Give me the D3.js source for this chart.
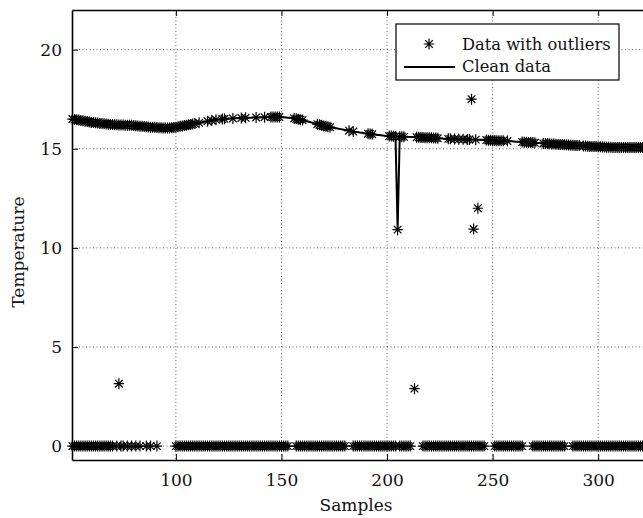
<!DOCTYPE html>
<html><head><meta charset="utf-8">
<script src="https://cdn.jsdelivr.net/npm/d3@7"></script>
<style>body{margin:0;background:#fff}svg{display:block}</style>
</head><body>
<script>
// ---- data ----
const firstSample = 51;
const cleanData = [
16.50,16.48,16.46,16.45,16.43,16.41,16.39,16.37,16.35,16.33,
16.32,16.31,16.30,16.28,16.27,16.26,16.25,16.24,16.23,16.22,
16.21,16.21,16.20,16.20,16.20,16.19,16.19,16.18,16.18,16.17,
16.16,16.15,16.14,16.13,16.12,16.11,16.10,16.09,16.09,16.08,
16.07,16.06,16.06,16.05,16.05,16.05,16.05,16.06,16.07,16.09,
16.11,16.13,16.15,16.17,16.19,16.21,16.23,16.25,16.27,16.29,
16.31,16.33,16.35,16.37,16.39,16.41,16.43,16.45,16.46,16.48,
16.49,16.50,16.51,16.52,16.52,16.53,16.53,16.54,16.54,16.55,
16.55,16.56,16.56,16.57,16.57,16.57,16.58,16.58,16.58,16.58,
16.59,16.59,16.59,16.60,16.60,16.60,16.60,16.60,16.60,16.60,
16.59,16.58,16.57,16.56,16.55,16.53,16.51,16.49,16.47,16.45,
16.42,16.39,16.36,16.33,16.30,16.27,16.24,16.21,16.18,16.15,
16.13,16.11,16.09,16.07,16.05,16.03,16.01,15.99,15.97,15.95,
15.93,15.91,15.89,15.87,15.85,15.84,15.82,15.81,15.79,15.78,
15.76,15.75,15.73,15.72,15.70,15.69,15.68,15.67,15.66,15.65,
15.64,15.64,15.63,15.62,10.92,15.61,15.61,15.60,15.60,15.60,
15.59,15.59,15.59,15.58,15.58,15.57,15.57,15.56,15.56,15.55,
15.55,15.54,15.54,15.53,15.52,15.52,15.51,15.51,15.50,15.50,
15.50,15.49,15.49,15.48,15.48,15.48,15.47,15.47,15.47,15.47,
15.46,15.46,15.46,15.45,15.45,15.44,15.44,15.43,15.43,15.42,
15.42,15.41,15.41,15.40,15.40,15.39,15.39,15.38,15.38,15.37,
15.36,15.36,15.35,15.34,15.33,15.33,15.32,15.31,15.31,15.30,
15.29,15.29,15.28,15.27,15.27,15.26,15.25,15.24,15.24,15.23,
15.22,15.22,15.21,15.20,15.20,15.19,15.18,15.18,15.17,15.17,
15.16,15.15,15.14,15.14,15.13,15.12,15.12,15.11,15.11,15.10,
15.10,15.09,15.09,15.08,15.08,15.08,15.07,15.07,15.07,15.07,
15.07,15.07,15.07,15.06,15.06,15.06,15.06,15.06,15.06,15.06,
15.06,15.06];

// samples of the noisy series whose reading equals the clean value
const onLineSamples = [
51,52,53,54,55,56,57,58,59,60,61,62,63,64,65,66,67,68,69,70,71,72,73,74,75,76,77,78,79,80,
81,82,83,84,85,86,87,88,89,90,91,92,93,94,95,96,97,98,99,100,101,102,103,104,105,106,107,108,109,
111,115,117,119,122,123,127,131,133,138,142,145,146,147,148,149,156,157,158,159,160,
167,168,169,170,171,172,173,182,184,191,192,193,201,202,203,204,205,206,207,208,
214,215,216,217,218,219,220,221,222,223,224,229,230,232,234,236,238,239,242,
247,248,249,250,251,252,253,254,255,257,264,265,266,267,268,269,270,
274,275,276,277,278,279,280,281,282,283,284,285,286,287,288,289,290,291,
293,294,295,296,297,298,299,300,301,302,303,304,305,306,307,308,309,310,311,312,313,314,315,316,317,318,319,320,321,322];

// samples of the noisy series whose reading is 0
const zeroSamples = [
51,52,53,54,55,56,57,58,59,60,61,62,63,64,65,66,67,68,69,70,72,74,75,77,79,81,83,86,88,91,
100,101,102,103,104,105,106,107,108,109,110,111,112,113,114,115,116,117,118,119,120,121,122,123,124,125,
126,127,128,129,130,131,132,133,134,135,136,137,138,139,140,141,142,143,144,145,146,147,148,149,150,151,152,153,
157,158,159,160,161,162,163,164,165,166,167,168,169,170,171,172,173,174,175,176,177,178,179,180,
184,185,186,187,188,189,190,191,192,193,194,195,196,197,198,199,200,201,202,203,204,206,207,208,209,210,211,
217,218,219,220,221,222,223,224,225,226,227,228,229,230,231,232,233,234,235,236,237,238,239,240,241,242,243,244,245,246,
251,252,253,254,255,256,257,258,259,260,261,262,263,264,
269,270,271,272,273,274,275,276,277,278,279,280,281,282,283,284,
288,289,290,291,292,293,294,295,296,297,298,299,300,301,302,303,304,305,306,307,308,309,310,311,312,313,314,315,316,317,318,319,320,321,322];

// outliers of the noisy series
const outlierX = [73, 213, 240, 241, 243];
const outlierY = [3.15, 2.9, 17.5, 10.95, 12.0];

const xTicks = [100, 150, 200, 250, 300];
const yTicks = [0, 5, 10, 15, 20];
const legendLabels = ["Data with outliers", "Clean data"];

// ---- drawing ----
const W = 643, H = 518;
const svg = d3.select("body").append("svg").attr("width", W).attr("height", H);
const L = 72, T = 10, B = 460, R = 651;
const x = d3.scaleLinear().domain([50.8, 325]).range([L, R]);
const y = d3.scaleLinear().domain([-0.7, 22]).range([B, T]);
const font = "'DejaVu Serif', serif";
const fs = 17;

// grid
const grid = svg.append("g").attr("stroke", "#000").attr("stroke-width", 0.8).attr("stroke-dasharray", "1,2.5").attr("opacity", 0.75);
xTicks.forEach(v => grid.append("line").attr("x1", x(v)).attr("x2", x(v)).attr("y1", T).attr("y2", B));
yTicks.forEach(v => grid.append("line").attr("x1", L).attr("x2", W).attr("y1", y(v)).attr("y2", y(v)));

// axes
const axB = svg.append("g").attr("transform", `translate(0,${B})`)
  .call(d3.axisBottom(x).tickValues(xTicks).tickSizeInner(-6).tickSizeOuter(0).tickPadding(14));
const axT = svg.append("g").attr("transform", `translate(0,${T})`)
  .call(d3.axisTop(x).tickValues(xTicks).tickSizeInner(-6).tickSizeOuter(0).tickFormat(""));
const axL = svg.append("g").attr("transform", `translate(${L},0)`)
  .call(d3.axisLeft(y).tickValues(yTicks).tickSizeInner(-6).tickSizeOuter(0).tickPadding(10));
[axB, axT, axL].forEach(a => {
  a.select(".domain").attr("stroke", "#000").attr("stroke-width", 1.6);
  a.selectAll(".tick line").attr("stroke", "#000").attr("stroke-width", 1);
  a.selectAll("text").attr("font-family", font).attr("font-size", fs).attr("fill", "#111");
});

// clean line
const line = d3.line().x((d, i) => x(firstSample + i)).y(d => y(d));
svg.append("path").datum(cleanData).attr("d", line)
  .attr("fill", "none").attr("stroke", "#000").attr("stroke-width", 2).attr("stroke-linejoin", "round");

// noisy series markers
const noisy = [];
onLineSamples.forEach(s => noisy.push([s, cleanData[s - firstSample]]));
zeroSamples.forEach(s => noisy.push([s, 0]));
outlierX.forEach((s, i) => noisy.push([s, outlierY[i]]));
const star = "M0,-5.5V5.5M-5.2,0H5.2M-3.8,-3.8L3.8,3.8M-3.8,3.8L3.8,-3.8";
svg.append("g").selectAll("path").data(noisy).join("path")
  .attr("transform", d => `translate(${x(d[0])},${y(d[1])})`)
  .attr("d", star).attr("fill", "none").attr("stroke", "#000").attr("stroke-width", 1.2);

// legend
const lg = svg.append("g");
lg.append("rect").attr("x", 396).attr("y", 24).attr("width", 223).attr("height", 56)
  .attr("fill", "#fff").attr("stroke", "#000").attr("stroke-width", 1.2);
lg.append("path").attr("transform", "translate(429,44)").attr("d", star).attr("fill", "none").attr("stroke", "#000").attr("stroke-width", 1.2);
lg.append("line").attr("x1", 404).attr("x2", 455).attr("y1", 67).attr("y2", 67).attr("stroke", "#000").attr("stroke-width", 2);
legendLabels.forEach((t, i) => lg.append("text").attr("x", 462).attr("y", 44 + i * 22).attr("dy", "0.35em")
  .attr("font-family", font).attr("font-size", 16.3).attr("fill", "#111").text(t));

// axis titles
svg.append("text").attr("x", 356).attr("y", 505).attr("dy", "0.35em").attr("text-anchor", "middle")
  .attr("font-family", font).attr("font-size", fs).attr("fill", "#111").text("Samples");
svg.append("text").attr("transform", "translate(18,252) rotate(-90)").attr("dy", "0.35em").attr("text-anchor", "middle")
  .attr("font-family", font).attr("font-size", fs).attr("fill", "#111").text("Temperature");
</script>
</body></html>
